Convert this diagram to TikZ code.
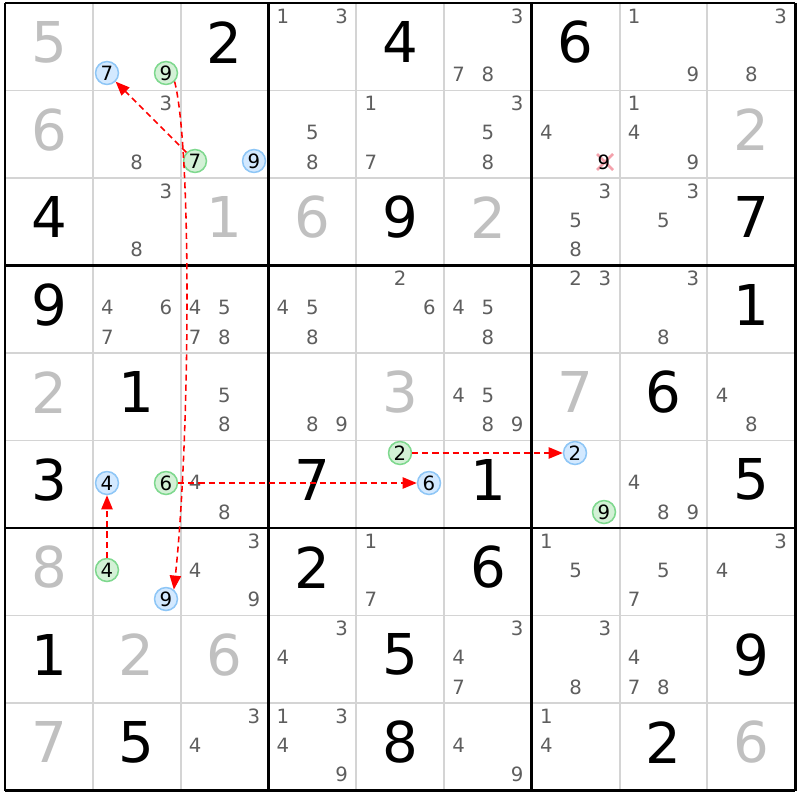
\documentclass[tikz,border=0pt]{standalone}
\usepackage{fontspec}
\setmainfont{DejaVu Sans}
\usetikzlibrary{arrows.meta}
\definecolor{gridgrey}{HTML}{D4D4D4}
\definecolor{solvedgrey}{HTML}{C0C0C0}
\definecolor{candgrey}{HTML}{5E5E5E}
\definecolor{bluefill}{HTML}{D3E9FF}
\definecolor{blueline}{HTML}{8EC6F6}
\definecolor{greenfill}{HTML}{D3F1D6}
\definecolor{greenline}{HTML}{7ED88E}
\definecolor{crosspink}{HTML}{F4A2AC}

\begin{document}
\begin{tikzpicture}[
                x = 0.025cm,
                y = -0.025cm,
                given/.style = {
                    inner sep = 0pt,
                    font = \fontsize{40}{40}\selectfont
                },
                solved/.style = {given, text = solvedgrey},
                cand/.style = {
                    inner sep = 0pt,
                    text = candgrey,
                    font = \fontsize{14}{14}\selectfont
                },
                bead/.style = {
                    circle,
                    draw = #1line,
                    fill = #1fill,
                    line width = 1.1pt,
                    minimum size = 16.3pt,
                    inner sep = 0pt,
                    font = \fontsize{14}{14}\selectfont
                },
                bead/.default = blue,
                link/.style = {
                    red,
                    line width = 1.1pt,
                    dash pattern = on 4.3pt off 2.9pt,
                    -{Triangle[length = 10pt, width = 8pt]}
                }
            ]
            \useasboundingbox (0,0) rectangle (800,800);
            % 
            % grid
            \foreach \i in {1,2,4,5,7,8} {
                \draw[gridgrey, line width = 1.4pt] ({5+\i*87.8},3) -- ({5+\i*87.8},790.5);
                \draw[gridgrey, line width = 1.4pt] (5,{3+\i*87.5}) -- (795.2,{3+\i*87.5});
            }
            \foreach \i in {0,3,6,9} {
                \draw[black, line width = 2.1pt] ({5+\i*87.8},3) -- ({5+\i*87.8},790.5);
                \draw[black, line width = 2.1pt] (5,{3+\i*87.5}) -- (795.2,{3+\i*87.5});
            }
            % 
            % givens
            \foreach \r/\c/\v in {1/3/2, 1/5/4, 1/7/6, 3/1/4, 3/5/9, 3/9/7, 4/1/9, 4/9/1,
                                  5/2/1, 5/8/6, 6/1/3, 6/4/7, 6/6/1, 6/9/5, 7/4/2, 7/6/6,
                                  8/1/1, 8/5/5, 8/9/9, 9/2/5, 9/5/8, 9/8/2}
                \node[given] (g\r\c) at ({5+(\c-0.5)*87.8},{3+(\r-0.5)*87.5-4.5}) {\v};
            % 
            % solved
            \foreach \r/\c/\v in {1/1/5, 2/1/6, 2/9/2, 3/3/1, 3/4/6, 3/6/2, 5/1/2, 5/5/3,
                                  5/7/7, 7/1/8, 8/2/2, 8/3/6, 9/1/7, 9/9/6}
                \node[solved] (s\r\c) at ({5+(\c-0.5)*87.8},{3+(\r-0.5)*87.5-4.5}) {\v};
            % 
            % candidates
            \foreach \r/\c/\l in {1/4/{1,3}, 1/6/{3,7,8}, 1/8/{1,9}, 1/9/{3,8},
                                  2/2/{3,8}, 2/4/{5,8}, 2/5/{1,7}, 2/6/{3,5,8}, 2/7/{4}, 2/8/{1,4,9},
                                  3/2/{3,8}, 3/7/{3,5,8}, 3/8/{3,5},
                                  4/2/{4,6,7}, 4/3/{4,5,7,8}, 4/4/{4,5,8}, 4/5/{2,6}, 4/6/{4,5,8}, 4/7/{2,3}, 4/8/{3,8},
                                  5/3/{5,8}, 5/4/{8,9}, 5/6/{4,5,8,9}, 5/9/{4,8},
                                  6/3/{4,8}, 6/8/{4,8,9},
                                  7/3/{3,4,9}, 7/5/{1,7}, 7/7/{1,5}, 7/8/{5,7}, 7/9/{3,4},
                                  8/4/{3,4}, 8/6/{3,4,7}, 8/7/{3,8}, 8/8/{4,7,8},
                                  9/3/{3,4}, 9/4/{1,3,4,9}, 9/6/{4,9}, 9/7/{1,4}}
                \foreach \d in \l
                    \node[cand] (c\r\c\d) at ({5+(\c-1)*87.8+14.6+mod(\d-1,3)*29.3},{3+(\r-1)*87.5+13+floor((\d-1)/3)*29.3}) {\d};
            % 
            % eliminated
            \draw[crosspink, line width = 1.8pt] (597,154) -- (613,170);
            \draw[crosspink, line width = 1.8pt] (597,170) -- (613,154);
            \node[cand, text = black] (x279) at (604,162) {9};
            % 
            % chain
            \node[bead=blue] (r1c2n7) at (107,73) {7};
            \node[bead=green] (r1c2n9) at (166,73) {9};
            \node[bead=green] (r2c3n7) at (195,161) {7};
            \node[bead=blue] (r2c3n9) at (254,161) {9};
            % 
            \node[bead=blue] (r6c2n4) at (107,483) {4};
            \node[bead=green] (r6c2n6) at (166,483) {6};
            \node[bead=green] (r6c5n2) at (400,453) {2};
            \node[bead=blue] (r6c5n6) at (429,483) {6};
            \node[bead=blue] (r6c7n2) at (575,453) {2};
            \node[bead=green] (r6c7n9) at (604,512) {9};
            % 
            \node[bead=green] (r7c2n4) at (107,570) {4};
            \node[bead=blue] (r7c2n9) at (166,599) {9};
            % 
            \draw[link] (r2c3n7) -- (r1c2n7);
            \draw[link] (r1c2n9.-45) .. controls (192,150) and (190,440) .. (r7c2n9.50);
            \draw[link] (r6c2n6) -- (r6c5n6);
            \draw[link] (r6c5n2) -- (r6c7n2);
            \draw[link] (r7c2n4) -- (r6c2n4);
            % 
        \end{tikzpicture}
\end{document}
